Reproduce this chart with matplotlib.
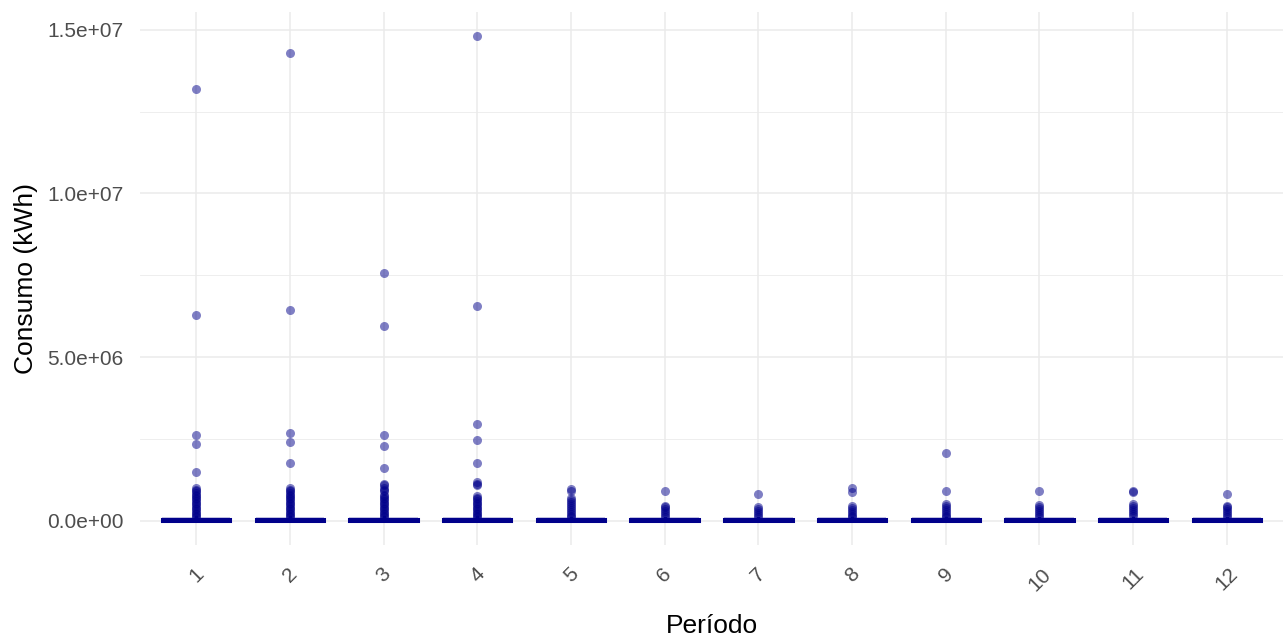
import matplotlib
matplotlib.use("Agg")
import matplotlib.pyplot as plt
import numpy as np

periods = ["1", "2", "3", "4", "5", "6", "7", "8", "9", "10", "11", "12"]

# box statistics per period (kWh)
q1 = [2000, 2000, 2000, 2000, 1500, 1500, 1500, 1500, 1500, 1500, 1500, 1500]
med = [15000, 15000, 15000, 15000, 12000, 12000, 12000, 12000, 12000, 12000, 12000, 12000]
q3 = [45000, 45000, 45000, 45000, 40000, 40000, 40000, 40000, 40000, 40000, 40000, 40000]
whislo = [0, 0, 0, 0, 0, 0, 0, 0, 0, 0, 0, 0]
whishi = [105000, 105000, 105000, 105000, 95000, 95000, 95000, 95000, 95000, 95000, 95000, 95000]

# outliers per period (kWh)
out_p1 = [13.2e6, 6.30e6, 2.63e6, 2.35e6, 1.50e6, 1.0e6, 0.95e6, 0.9e6, 0.85e6, 0.8e6, 0.75e6, 0.7e6,
          0.65e6, 0.6e6, 0.55e6, 0.5e6, 0.45e6, 0.4e6, 0.35e6, 0.3e6, 0.25e6, 0.2e6, 0.15e6, 0.12e6]
out_p2 = [14.3e6, 6.44e6, 2.68e6, 2.40e6, 1.76e6, 1.0e6, 0.95e6, 0.9e6, 0.85e6, 0.8e6, 0.75e6, 0.7e6,
          0.65e6, 0.6e6, 0.55e6, 0.5e6, 0.45e6, 0.4e6, 0.35e6, 0.3e6, 0.25e6, 0.2e6, 0.15e6, 0.12e6]
out_p3 = [7.57e6, 5.96e6, 2.63e6, 2.28e6, 1.62e6, 1.12e6, 1.08e6, 1.0e6, 0.95e6, 0.9e6, 0.8e6, 0.75e6,
          0.7e6, 0.65e6, 0.6e6, 0.55e6, 0.5e6, 0.45e6, 0.4e6, 0.35e6, 0.3e6, 0.25e6, 0.2e6, 0.15e6, 0.12e6]
out_p4 = [14.8e6, 6.57e6, 2.95e6, 2.47e6, 1.76e6, 1.18e6, 1.12e6, 1.08e6, 0.75e6, 0.7e6, 0.65e6, 0.6e6,
          0.55e6, 0.5e6, 0.45e6, 0.4e6, 0.35e6, 0.3e6, 0.25e6, 0.2e6, 0.15e6, 0.12e6]
out_p5 = [0.97e6, 0.9e6, 0.7e6, 0.64e6, 0.58e6, 0.52e6, 0.46e6, 0.4e6, 0.34e6, 0.28e6, 0.22e6, 0.16e6, 0.11e6]
out_p6 = [0.92e6, 0.46e6, 0.42e6, 0.36e6, 0.3e6, 0.24e6, 0.18e6, 0.12e6]
out_p7 = [0.82e6, 0.42e6, 0.36e6, 0.3e6, 0.24e6, 0.18e6, 0.12e6]
out_p8 = [1.0e6, 0.87e6, 0.46e6, 0.4e6, 0.34e6, 0.28e6, 0.22e6, 0.16e6, 0.11e6]
out_p9 = [2.08e6, 0.91e6, 0.5e6, 0.46e6, 0.4e6, 0.34e6, 0.28e6, 0.22e6, 0.16e6, 0.11e6]
out_p10 = [0.91e6, 0.48e6, 0.42e6, 0.36e6, 0.3e6, 0.24e6, 0.18e6, 0.12e6]
out_p11 = [0.92e6, 0.87e6, 0.5e6, 0.44e6, 0.38e6, 0.32e6, 0.26e6, 0.2e6, 0.14e6]
out_p12 = [0.83e6, 0.46e6, 0.42e6, 0.36e6, 0.3e6, 0.24e6, 0.18e6, 0.12e6]
outliers = [out_p1, out_p2, out_p3, out_p4, out_p5, out_p6, out_p7, out_p8,
            out_p9, out_p10, out_p11, out_p12]

yticks = [0, 5e6, 1e7, 1.5e7]
ytick_labels = ["0.0e+00", "5.0e+06", "1.0e+07", "1.5e+07"]

stats = []
for i, p in enumerate(periods):
    stats.append(dict(label=p, q1=q1[i], med=med[i], q3=q3[i],
                      whislo=whislo[i], whishi=whishi[i], fliers=outliers[i]))

plt.rcParams['font.family'] = ['Liberation Sans', 'DejaVu Sans']
fig = plt.figure(figsize=(12.83, 6.37), dpi=100)
ax = fig.add_axes([140 / 1283, 1 - 545 / 637, 1 - 140 / 1283, (545 - 12) / 637])

col = "#00008B"
positions = np.arange(1, len(periods) + 1)
ax.bxp(stats, positions=positions, widths=0.73, patch_artist=True,
       boxprops=dict(facecolor="white", edgecolor=col, linewidth=2.2),
       medianprops=dict(color=col, linewidth=3.2),
       whiskerprops=dict(color=col, linewidth=2.2),
       capprops=dict(linewidth=0),
       flierprops=dict(marker="o", markersize=6.5, markerfacecolor=col,
                       markeredgecolor="none", alpha=0.5),
       zorder=3)

ax.set_xlim(0.4, 12.6)
ymax = 14.8e6
ax.set_ylim(-0.05 * ymax, 1.05 * ymax)

ax.set_yticks(yticks)
ax.set_yticklabels(ytick_labels)
ax.set_yticks([2.5e6, 7.5e6, 12.5e6], minor=True)
ax.set_xticks(positions)
ax.set_xticklabels(periods, rotation=45, ha="center", va="top")
ax.tick_params(axis="both", which="both", length=0, labelsize=15, labelcolor="#4D4D4D")
ax.tick_params(axis="x", pad=14)
ax.tick_params(axis="y", pad=12)

ax.grid(True, which="major", color="#EBEBEB", linewidth=1.1, zorder=0)
ax.grid(True, which="minor", axis="y", color="#EBEBEB", linewidth=0.6, zorder=0)
ax.set_axisbelow(True)
for s in ax.spines.values():
    s.set_visible(False)

ax.set_xlabel("Período", fontsize=19, color="black", labelpad=14)
ax.set_ylabel("Consumo (kWh)", fontsize=19, color="black", labelpad=6)

fig.savefig("out.png", dpi=100)
